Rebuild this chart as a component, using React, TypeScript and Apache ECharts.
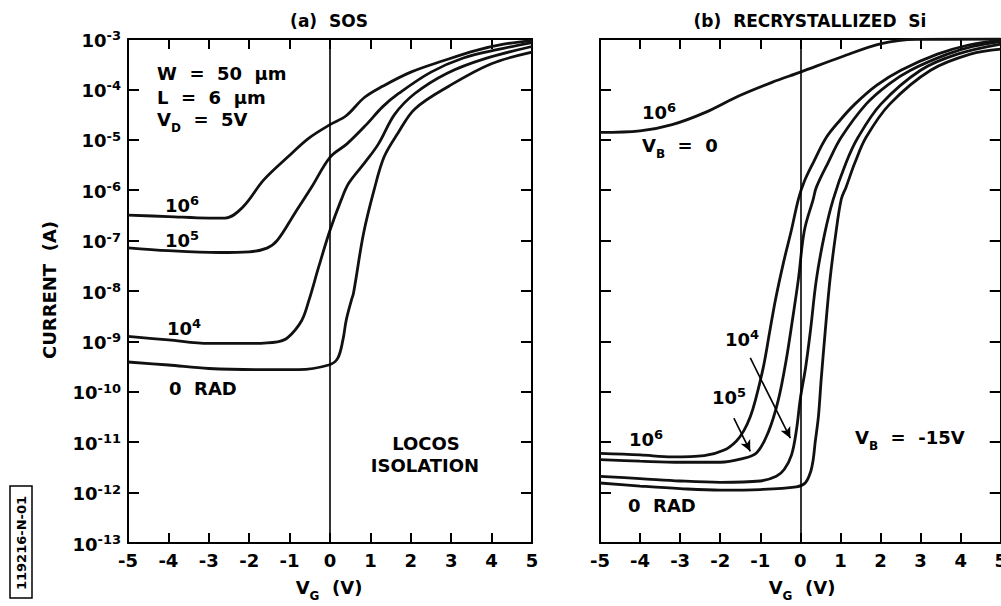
import React, { useEffect, useRef } from "react";
import * as echarts from "echarts";

const FONT = "DejaVu Sans";

// Axis ranges
const vgMin = -5;
const vgMax = 5;
const vgStep = 1;
const currentMin = 1e-13;
const currentMax = 1e-3;

// (a) SOS — [V_G (V), current (A)]
const sos1e6: [number, number][] = [
  [-5, 3.2e-7], [-4, 3.0e-7], [-3, 2.8e-7], [-2.6, 2.8e-7], [-2.15, 4.7e-7], [-1.64, 1.6e-6],
  [-1.04, 4.6e-6], [-0.53, 1.07e-5], [0, 2.0e-5], [0.4, 3.0e-5], [0.85, 6.9e-5], [1.3, 1.15e-4],
  [2.0, 2.2e-4], [2.8, 3.7e-4], [3.6, 5.9e-4], [4.3, 7.9e-4], [5, 9.3e-4],
];
const sos1e5: [number, number][] = [
  [-5, 7.2e-8], [-4, 6.3e-8], [-2.75, 5.8e-8], [-2.0, 6.0e-8], [-1.56, 7.1e-8], [-1.3, 1.02e-7],
  [-0.87, 3.5e-7], [-0.45, 1.17e-6], [0, 4.5e-6], [0.42, 8.3e-6], [0.9, 2.0e-5], [1.3, 4.5e-5],
  [1.7, 8.3e-5], [2.5, 2.2e-4], [3.3, 4.2e-4], [4.2, 6.3e-4], [5, 8.5e-4],
];
const sos1e4: [number, number][] = [
  [-5, 1.26e-9], [-4, 1.07e-9], [-3, 9.1e-10], [-2, 9.1e-10], [-1.3, 9.8e-10], [-1.04, 1.2e-9],
  [-0.7, 2.6e-9], [-0.52, 6.6e-9], [-0.28, 3.0e-8], [0, 1.6e-7], [0.28, 6.5e-7], [0.47, 1.4e-6],
  [0.87, 3.6e-6], [1.2, 8.3e-6], [1.6, 3.2e-5], [2.1, 8.3e-5], [2.9, 2.1e-4], [3.8, 4.0e-4], [5, 7.1e-4],
];
const sos0Rad: [number, number][] = [
  [-5, 3.9e-10], [-4, 3.4e-10], [-3, 2.9e-10], [-1.5, 2.75e-10], [-0.78, 2.75e-10], [-0.03, 3.4e-10],
  [0.19, 4.6e-10], [0.32, 1.07e-9], [0.4, 2.6e-9], [0.53, 6.6e-9], [0.58, 8.9e-9], [0.83, 1.38e-7],
  [1.09, 1.0e-6], [1.34, 4.6e-6], [1.68, 1.35e-5], [2.1, 4.1e-5], [2.95, 1.17e-4], [3.98, 3.2e-4], [5, 5.5e-4],
];

// (b) RECRYSTALLIZED Si
const rcVb0: [number, number][] = [
  [-5, 1.4e-5], [-4, 1.5e-5], [-3.2, 2.0e-5], [-2.37, 3.5e-5], [-1.54, 7.4e-5], [-0.71, 1.38e-4],
  [0, 2.2e-4], [1.02, 4.4e-4], [2.02, 8.1e-4], [2.9, 9.8e-4], [5, 1.0e-3],
];
const rc1e6: [number, number][] = [
  [-5, 6.0e-12], [-4, 5.6e-12], [-3.2, 5.1e-12], [-2.4, 5.4e-12], [-1.9, 7.0e-12], [-1.6, 1.05e-11],
  [-1.41, 1.7e-11], [-1.25, 3.2e-11], [-1.12, 6.9e-11], [-0.92, 3.2e-10], [-0.77, 1.48e-9],
  [-0.62, 6.8e-9], [-0.42, 3.7e-8], [-0.22, 1.66e-7], [-0.05, 6.6e-7], [0.1, 1.5e-6], [0.32, 3.5e-6],
  [0.65, 1.12e-5], [1.0, 2.5e-5], [1.36, 5.1e-5], [1.9, 1.2e-4], [2.51, 2.4e-4], [3.42, 5.0e-4],
  [4.2, 7.6e-4], [5, 9.5e-4],
];
const rc1e5: [number, number][] = [
  [-5, 4.5e-12], [-4, 4.2e-12], [-3, 4.0e-12], [-2, 4.0e-12], [-1.5, 4.6e-12], [-1.09, 6.2e-12],
  [-0.79, 1.66e-11], [-0.55, 6.9e-11], [-0.36, 4.0e-10], [-0.2, 2.6e-9], [-0.05, 1.7e-8],
  [0.1, 1.58e-7], [0.32, 6.6e-7], [0.4, 1.15e-6], [0.69, 3.5e-6], [1.02, 1.12e-5], [1.64, 5.1e-5],
  [2.2, 1.26e-4], [2.75, 2.4e-4], [3.67, 5.0e-4], [4.3, 7.1e-4], [5, 8.9e-4],
];
const rc1e4: [number, number][] = [
  [-5, 2.1e-12], [-4, 1.9e-12], [-3, 1.7e-12], [-2, 1.6e-12], [-1, 1.7e-12], [-0.6, 2.1e-12],
  [-0.4, 2.9e-12], [-0.22, 5.6e-12], [-0.1, 1.7e-11], [0, 7.4e-11], [0.13, 3.0e-10], [0.25, 1.6e-9],
  [0.4, 1.7e-8], [0.6, 1.3e-7], [0.82, 6.6e-7], [1.14, 3.5e-6], [1.44, 1.12e-5], [2.01, 5.1e-5],
  [3.0, 2.4e-4], [3.92, 5.0e-4], [5, 7.9e-4],
];
const rc0Rad: [number, number][] = [
  [-5, 1.55e-12], [-4, 1.35e-12], [-3, 1.2e-12], [-2, 1.12e-12], [-1, 1.15e-12], [-0.1, 1.3e-12],
  [0.12, 1.55e-12], [0.25, 2.5e-12], [0.32, 4.5e-12], [0.37, 1.0e-11], [0.45, 3.2e-11],
  [0.52, 1.78e-10], [0.62, 1.58e-9], [0.74, 1.7e-8], [0.88, 1.3e-7], [1.02, 6.6e-7], [1.14, 1.15e-6],
  [1.36, 3.5e-6], [1.64, 1.12e-5], [2.23, 5.1e-5], [3.25, 2.4e-4], [4.24, 5.0e-4], [5, 6.3e-4],
];

// Annotation arrows (data coordinates, right panel)
const arrow1e4: [number, number][] = [[-1.25, 4.7e-10], [-0.25, 1.2e-11]];
const arrow1e5: [number, number][] = [[-1.66, 3.0e-11], [-1.25, 6.6e-12]];

export default function App() {
  const ref = useRef<HTMLDivElement>(null);

  useEffect(() => {
    if (!ref.current) return;
    const chart = echarts.init(ref.current, null, { renderer: "svg" });

    const black = "#000";
    const axisLineStyle = { color: black, width: 2 };

    const xAxis = (gridIndex: number, position: string, labels: boolean) => ({
      type: "value",
      gridIndex,
      position,
      min: vgMin,
      max: vgMax,
      interval: vgStep,
      axisLine: { show: true, onZero: false, lineStyle: axisLineStyle },
      axisTick: { show: true, inside: true, length: 10, lineStyle: axisLineStyle },
      axisLabel: {
        show: labels,
        margin: 8,
        color: black,
        fontFamily: FONT,
        fontWeight: "bold",
        fontSize: 18,
      },
      splitLine: { show: false },
    });

    const yRich = {
      n: { fontFamily: FONT, fontWeight: "bold", fontSize: 18, lineHeight: 20, verticalAlign: "bottom", color: black },
      s: { fontFamily: FONT, fontWeight: "bold", fontSize: 13, lineHeight: 13, verticalAlign: "top", color: black },
    };

    const yAxis = (gridIndex: number, position: string, labels: boolean) => ({
      type: "log",
      logBase: 10,
      gridIndex,
      position,
      min: currentMin,
      max: currentMax,
      splitNumber: 10,
      axisLine: { show: true, onZero: false, lineStyle: axisLineStyle },
      axisTick: { show: true, inside: true, length: 11, lineStyle: axisLineStyle },
      minorTick: { show: false },
      axisLabel: {
        show: labels,
        margin: 7,
        formatter: (v: number) => `{n|10}{s|${Math.round(Math.log10(v))}}`,
        rich: yRich,
      },
      splitLine: { show: false },
    });

    const curve = (data: [number, number][], axisIndex: number, extra: any = {}) => ({
      type: "line",
      data,
      xAxisIndex: axisIndex,
      yAxisIndex: axisIndex,
      showSymbol: false,
      symbol: "none",
      smooth: 0.35,
      silent: true,
      lineStyle: { color: "#111", width: 2.8 },
      z: 3,
      ...extra,
    });

    const zeroLine = {
      silent: true,
      symbol: ["none", "none"],
      label: { show: false },
      lineStyle: { color: black, width: 1.6, type: "solid" },
      data: [{ xAxis: 0 }],
    };

    const arrows = {
      silent: true,
      symbol: ["none", "arrow"],
      symbolSize: [8, 11],
      label: { show: false },
      lineStyle: { color: black, width: 1.6, type: "solid" },
      data: [
        [{ coord: arrow1e4[0] }, { coord: arrow1e4[1] }],
        [{ coord: arrow1e5[0] }, { coord: arrow1e5[1] }],
      ],
    };

    // rich styles for graphic texts
    const tok = (size: number, extra: any = {}) => ({
      fontFamily: FONT,
      fontWeight: "bold",
      fontSize: size,
      fill: black,
      color: black,
      ...extra,
    });
    const supRich = {
      n: tok(18, { lineHeight: 20, verticalAlign: "bottom" }),
      s: tok(13, { lineHeight: 13, verticalAlign: "top" }),
    };
    const subRich = {
      n: tok(18, { lineHeight: 24, verticalAlign: "top" }),
      b: tok(12, { lineHeight: 12, verticalAlign: "bottom" }),
    };

    const label = (x: number, y: number, text: string, opts: any = {}) => ({
      type: "text",
      x,
      y,
      rotation: opts.rotation || 0,
      silent: true,
      z: 10,
      style: {
        text,
        fontFamily: FONT,
        fontWeight: "bold",
        fontSize: opts.size || 18,
        fill: black,
        align: opts.align || "left",
        verticalAlign: "middle",
        textAlign: opts.align || "left",
        textVerticalAlign: "middle",
        rich: opts.rich,
      },
    });

    const graphic = [
      // titles
      label(329, 21, "(a)  SOS", { align: "center", size: 17 }),
      label(810, 21, "(b)  RECRYSTALLIZED  Si", { align: "center", size: 17 }),
      // y-axis title
      label(49, 290, "CURRENT  (A)", { align: "center", size: 18, rotation: Math.PI / 2 }),
      // x-axis titles
      label(329, 590, "{n|V}{b|G}{n|  (V)}", { align: "center", rich: subRich }),
      label(802, 590, "{n|V}{b|G}{n|  (V)}", { align: "center", rich: subRich }),
      // left panel annotations
      label(157, 73, "W  =  50  μm"),
      label(157, 97, "L  =  6  μm"),
      label(157, 122, "{n|V}{b|D}{n|  =  5V}", { rich: subRich }),
      label(165, 204, "{n|10}{s|6}", { rich: supRich }),
      label(165, 239, "{n|10}{s|5}", { rich: supRich }),
      label(167, 327, "{n|10}{s|4}", { rich: supRich }),
      label(169, 388, "0  RAD"),
      label(426, 443, "LOCOS", { align: "center" }),
      label(425, 465, "ISOLATION", { align: "center" }),
      // right panel annotations
      label(642, 111, "{n|10}{s|6}", { rich: supRich }),
      label(642, 148, "{n|V}{b|B}{n|  =  0}", { rich: subRich }),
      label(725, 338, "{n|10}{s|4}", { rich: supRich }),
      label(712, 396, "{n|10}{s|5}", { rich: supRich }),
      label(629, 438, "{n|10}{s|6}", { rich: supRich }),
      label(628, 505, "0  RAD"),
      label(855, 440, "{n|V}{b|B}{n|  =  -15V}", { rich: subRich }),
      // figure id box
      {
        type: "rect",
        silent: true,
        shape: { x: 10, y: 486, width: 22, height: 112 },
        style: { fill: "none", stroke: black, lineWidth: 1.5 },
      },
      label(21, 543, "119216-N-01", { align: "center", size: 13, rotation: Math.PI / 2 }),
    ];

    chart.setOption({
      animation: false,
      backgroundColor: "#fff",
      grid: [
        { left: 128, top: 39, width: 404, height: 504 },
        { left: 600, top: 39, width: 403, height: 504 },
      ],
      xAxis: [
        xAxis(0, "bottom", true),
        xAxis(0, "top", false),
        xAxis(1, "bottom", true),
        xAxis(1, "top", false),
      ],
      yAxis: [
        yAxis(0, "left", true),
        yAxis(0, "right", false),
        yAxis(1, "left", false),
        yAxis(1, "right", false),
      ],
      series: [
        curve(sos1e6, 0, { markLine: zeroLine }),
        curve(sos1e5, 0),
        curve(sos1e4, 0),
        curve(sos0Rad, 0),
        { ...curve(rcVb0, 0), xAxisIndex: 2, yAxisIndex: 2, markLine: zeroLine },
        { ...curve(rc1e6, 0), xAxisIndex: 2, yAxisIndex: 2, markLine: arrows },
        { ...curve(rc1e5, 0), xAxisIndex: 2, yAxisIndex: 2 },
        { ...curve(rc1e4, 0), xAxisIndex: 2, yAxisIndex: 2 },
        { ...curve(rc0Rad, 0), xAxisIndex: 2, yAxisIndex: 2 },
      ],
      graphic,
    });

    return () => chart.dispose();
  }, []);

  return (
    <div
      ref={ref}
      style={{ position: "fixed", left: 0, top: 0, width: 1010, height: 606, background: "#fff" }}
    />
  );
}
